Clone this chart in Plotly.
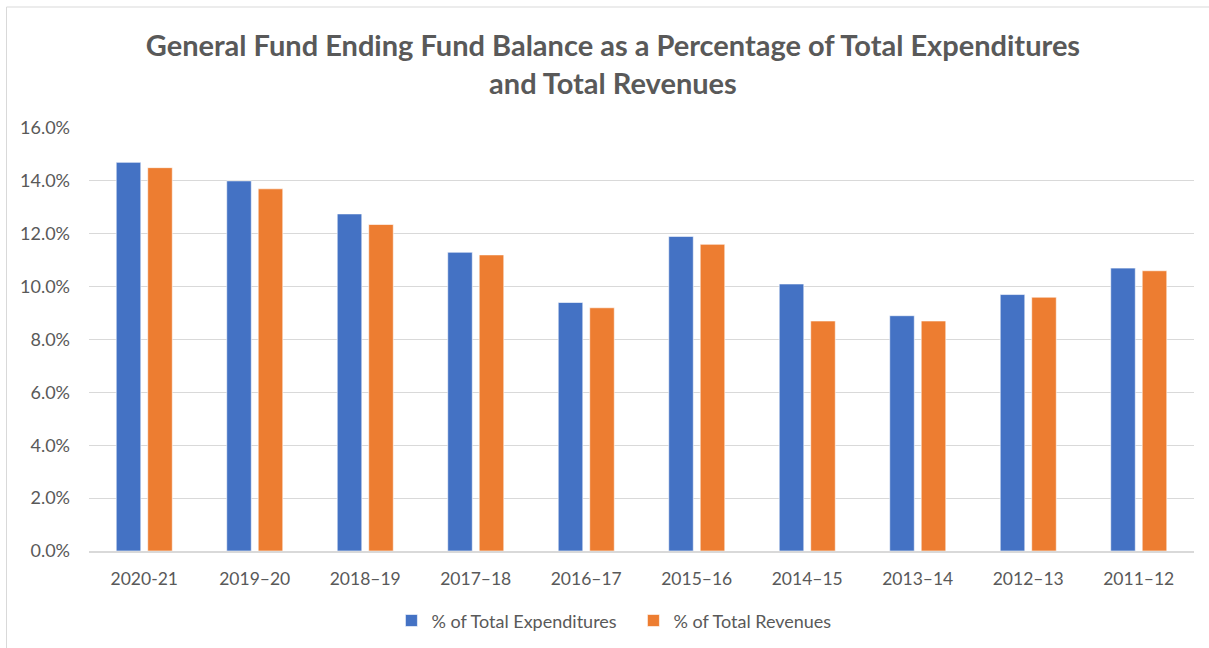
import plotly.graph_objects as go

categories = ["2020-21", "2019–20", "2018–19", "2017–18", "2016–17",
              "2015–16", "2014–15", "2013–14", "2012–13", "2011–12"]
pct_expenditures = [14.7, 14.0, 12.75, 11.3, 9.4, 11.9, 10.1, 8.9, 9.7, 10.7]
pct_revenues = [14.5, 13.7, 12.35, 11.2, 9.2, 11.6, 8.7, 8.7, 9.6, 10.6]
y_ticks = [0, 2, 4, 6, 8, 10, 12, 14, 16]
y_tick_labels = [f"{v:.1f}%" for v in y_ticks]

FONT = "Lato, Open Sans, sans-serif"
GRAY = "#595959"

fig = go.Figure()
fig.add_trace(go.Bar(x=categories, y=pct_expenditures, name="% of Total Expenditures",
                     marker=dict(color="#4472C4", line=dict(color="white", width=0.6))))
fig.add_trace(go.Bar(x=categories, y=pct_revenues, name="% of Total Revenues",
                     marker=dict(color="#ED7D31", line=dict(color="white", width=0.6))))

fig.update_layout(
    width=1209, height=648,
    margin=dict(l=89, r=15, t=128, b=97, autoexpand=False),
    paper_bgcolor="white", plot_bgcolor="white",
    font=dict(family=FONT, color=GRAY, size=18),
    title=dict(text="<b>General Fund Ending Fund Balance as a Percentage of Total Expenditures<br>and Total Revenues</b>",
               x=0.507, xref="container", xanchor="center",
               y=1 - 56 / 648, yref="container", yanchor="middle",
               font=dict(family=FONT, size=29, color=GRAY)),
    barmode="group", bargap=0.43, bargroupgap=0.22,
    showlegend=True,
    legend=dict(orientation="h", x=0.4927, xanchor="center", y=-0.165, yanchor="middle",
                font=dict(size=18, color=GRAY), itemwidth=30, traceorder="normal",
                entrywidth=197, entrywidthmode="pixels"),
    xaxis=dict(showgrid=False, showline=True, linecolor="#D9D9D9", linewidth=1.5,
               ticks="", tickfont=dict(size=17.5, color=GRAY), ticklabelstandoff=11),
    yaxis=dict(range=[0, 16], tickvals=y_ticks, ticktext=y_tick_labels,
               showgrid=True, gridcolor="#D9D9D9", gridwidth=1, zeroline=False,
               showline=False, ticks="", tickfont=dict(size=18, color=GRAY),
               ticklabelstandoff=18),
    shapes=[dict(type="rect", xref="paper", yref="paper",
                 x0=-(89 - 6.5) / 1105, x1=1.2, y0=-0.5, y1=(551 - 7) / 423,
                 line=dict(color="#D9D9D9", width=1), fillcolor="rgba(0,0,0,0)", layer="below")],
)

fig.write_html("out.html", config={"displayModeBar": False},
               post_script="document.body.style.margin='0';")
